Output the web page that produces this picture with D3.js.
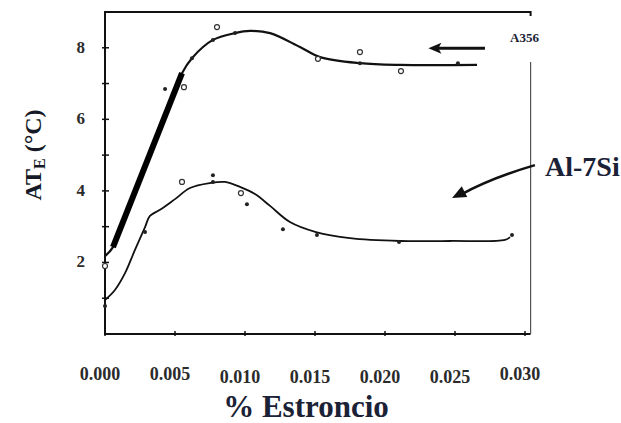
<!DOCTYPE html>
<html>
<head>
<meta charset="utf-8">
<script src="https://cdn.jsdelivr.net/npm/d3@7"></script>
<style>
  body { margin: 0; background: #fff; }
  svg { display: block; }
  text { font-family: "Liberation Serif", "Times New Roman", serif; font-weight: bold; }
</style>
</head>
<body>
<svg id="chart" width="621" height="423"></svg>
<script>
// values
const xTicks = [0, 0.005, 0.010, 0.015, 0.020, 0.025, 0.030];
const xTickLabels = ["0.000", "0.005", "0.010", "0.015", "0.020", "0.025", "0.030"];
const yTicks = [1, 2, 3, 4, 5, 6, 7, 8];
const yTickLabels = [2, 4, 6, 8];

// A356 fitted curve
const a356Curve = [
    [0, 2.18], [0.00057, 2.43], [0.0055, 7.29], [0.00621, 7.71], [0.00771, 8.22],
    [0.00929, 8.41], [0.01036, 8.47], [0.01179, 8.41], [0.01393, 8.02],
    [0.01536, 7.74], [0.01821, 7.57], [0.02107, 7.52], [0.02657, 7.52]
];
// heavily inked rising part of the A356 curve
const a356Thick = [[0.00057, 2.43], [0.0055, 7.29]];
const a356Open = [
    [0, 1.90], [0.00564, 6.90], [0.0080, 8.58], [0.01521, 7.69], [0.01821, 7.88], [0.02114, 7.35]
];
const a356Dots = [[0.00429, 6.85], [0.00621, 7.71], [0.00771, 8.22], [0.00929, 8.41], [0.01821, 7.57], [0.02521, 7.57]];

// Al-7Si fitted curve
const al7Curve = [
    [0, 0.95], [0.00071, 1.23], [0.00143, 1.70], [0.00214, 2.35], [0.00286, 2.99],
    [0.00321, 3.30], [0.00393, 3.47], [0.005, 3.77], [0.00607, 4.08], [0.0075, 4.22],
    [0.00857, 4.25], [0.00964, 4.11], [0.01071, 3.91], [0.01179, 3.58], [0.01321, 3.13],
    [0.01507, 2.85], [0.0175, 2.68], [0.02107, 2.60], [0.02464, 2.60], [0.02857, 2.63],
    [0.02893, 2.71]
];
const al7Open = [[0.0055, 4.25], [0.00971, 3.94]];
const al7Dots = [
    [0, 0.78], [0.00286, 2.85], [0.00771, 4.44], [0.00771, 4.25], [0.01014, 3.63],
    [0.01271, 2.93], [0.01514, 2.77], [0.0210, 2.57], [0.02907, 2.77]
];

// arrow annotations, in data units
const a356Arrow = { from: [0.02714, 7.99], to: [0.0231, 7.99] };
const al7Arrow = { from: [0.03071, 4.72], mid: [0.0275, 4.35], to: [0.02479, 3.80] };

const svg = d3.select("#chart");

const x = d3.scaleLinear().domain([0, 0.03]).range([105, 525]);
const y = d3.scaleLinear().domain([0, 9]).range([334, 12]);

const frameL = x(0), frameR = x(0.0304), frameT = y(9), frameB = y(0);

// frame: left, bottom and top drawn heavy, right edge thin and broken under the label
svg.append("path")
    .attr("d", "M" + frameR + "," + (frameT + 4) + "V" + frameT + "H" + frameL + "V" + frameB + "H" + frameR)
    .attr("fill", "none")
    .attr("stroke", "#111")
    .attr("stroke-width", 2);
svg.append("line")
    .attr("x1", frameR).attr("x2", frameR)
    .attr("y1", 62).attr("y2", frameB)
    .attr("stroke", "#555")
    .attr("stroke-width", 1.2);

// ticks
svg.append("g").selectAll("line")
    .data(xTicks)
    .enter().append("line")
    .attr("x1", function(d) { return x(d); })
    .attr("x2", function(d) { return x(d); })
    .attr("y1", frameB - 3)
    .attr("y2", frameB + 2)
    .attr("stroke", "#111")
    .attr("stroke-width", 1.5);

svg.append("g").selectAll("line")
    .data(yTicks)
    .enter().append("line")
    .attr("x1", frameL - 3)
    .attr("x2", frameL + 4)
    .attr("y1", function(d) { return y(d); })
    .attr("y2", function(d) { return y(d); })
    .attr("stroke", "#111")
    .attr("stroke-width", 1.5);

// tick labels
svg.append("g").selectAll("text")
    .data(xTicks)
    .enter().append("text")
    .attr("x", function(d) { return x(d) - 5; })
    .attr("y", function(d, i) { return 380 + (i >= 2 && i <= 5 ? 3 : 0); })
    .attr("text-anchor", "middle")
    .attr("font-size", 18)
    .attr("fill", "#2b2b2b")
    .text(function(d, i) { return xTickLabels[i]; });

svg.append("g").selectAll("text")
    .data(yTickLabels)
    .enter().append("text")
    .attr("x", frameL - 20)
    .attr("y", function(d) { return y(d) + 5; })
    .attr("text-anchor", "end")
    .attr("font-size", 17)
    .attr("fill", "#2b2b2b")
    .text(function(d) { return d; });

// axis titles
const yTitle = svg.append("text")
    .attr("transform", "translate(41,155) rotate(-90)")
    .attr("text-anchor", "middle")
    .attr("font-size", 24)
    .attr("fill", "#151a26");
yTitle.append("tspan").text("AT");
yTitle.append("tspan").attr("font-size", 16).attr("dy", 4).text("E");
yTitle.append("tspan").attr("dy", -4).text(" (°C)");

svg.append("text")
    .attr("x", 306)
    .attr("y", 417)
    .attr("text-anchor", "middle")
    .attr("font-size", 31)
    .attr("fill", "#1b2236")
    .text("% Estroncio");

// curves
const line = d3.line()
    .x(function(d) { return x(d[0]); })
    .y(function(d) { return y(d[1]); })
    .curve(d3.curveCatmullRom.alpha(0.5));

svg.append("path")
    .attr("d", line(a356Curve))
    .attr("fill", "none")
    .attr("stroke", "#111")
    .attr("stroke-width", 2.2);

svg.append("path")
    .attr("d", d3.line().x(function(d) { return x(d[0]); }).y(function(d) { return y(d[1]); })(a356Thick))
    .attr("fill", "none")
    .attr("stroke", "#000")
    .attr("stroke-width", 6);

svg.append("path")
    .attr("d", line(al7Curve))
    .attr("fill", "none")
    .attr("stroke", "#111")
    .attr("stroke-width", 1.8);

// data markers
svg.append("g").selectAll("circle")
    .data(a356Open.concat(al7Open))
    .enter().append("circle")
    .attr("cx", function(d) { return x(d[0]); })
    .attr("cy", function(d) { return y(d[1]); })
    .attr("r", 2.5)
    .attr("fill", "#fff")
    .attr("stroke", "#333")
    .attr("stroke-width", 1.2);

svg.append("g").selectAll("circle")
    .data(a356Dots.concat(al7Dots))
    .enter().append("circle")
    .attr("cx", function(d) { return x(d[0]); })
    .attr("cy", function(d) { return y(d[1]); })
    .attr("r", 2)
    .attr("fill", "#222");

// annotations
svg.append("line")
    .attr("x1", x(a356Arrow.from[0])).attr("y1", y(a356Arrow.from[1]))
    .attr("x2", x(a356Arrow.to[0]) + 8).attr("y2", y(a356Arrow.to[1]))
    .attr("stroke", "#111")
    .attr("stroke-width", 3);
const ax = x(a356Arrow.to[0]), ay = y(a356Arrow.to[1]);
svg.append("path")
    .attr("d", "M" + ax + "," + ay + "L" + (ax + 13) + "," + (ay - 5.5) + "L" + (ax + 10) + "," + ay + "L" + (ax + 13) + "," + (ay + 5.5) + "Z")
    .attr("fill", "#111");

svg.append("text")
    .attr("x", 510)
    .attr("y", 42)
    .attr("font-size", 13)
    .attr("fill", "#1b2236")
    .text("A356");

const bx0 = x(al7Arrow.from[0]), by0 = y(al7Arrow.from[1]);
const bxm = x(al7Arrow.mid[0]), bym = y(al7Arrow.mid[1]);
const bx1 = x(al7Arrow.to[0]), by1 = y(al7Arrow.to[1]);
svg.append("path")
    .attr("d", "M" + bx0 + "," + by0 + "Q" + bxm + "," + bym + " " + (bx1 + 8) + "," + (by1 - 3))
    .attr("fill", "none")
    .attr("stroke", "#111")
    .attr("stroke-width", 2.5);
const ang = Math.atan2(by1 - bym, bx1 - bxm);
const hl = 14, hw = 6;
const hx = bx1 - hl * Math.cos(ang), hy = by1 - hl * Math.sin(ang);
svg.append("path")
    .attr("d", "M" + bx1 + "," + by1 +
        "L" + (hx - hw * Math.sin(ang)) + "," + (hy + hw * Math.cos(ang)) +
        "L" + (hx + hw * Math.sin(ang)) + "," + (hy - hw * Math.cos(ang)) + "Z")
    .attr("fill", "#111");

svg.append("text")
    .attr("x", 545)
    .attr("y", 176)
    .attr("font-size", 28)
    .attr("fill", "#1b2236")
    .text("Al-7Si");
</script>
</body>
</html>
